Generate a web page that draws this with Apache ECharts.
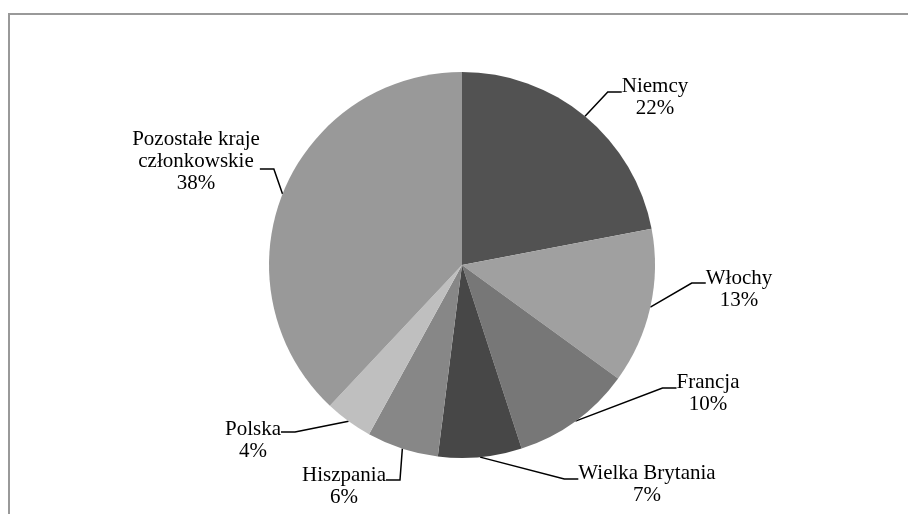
<!DOCTYPE html>
<html>
<head>
<meta charset="utf-8">
<script src="https://cdn.jsdelivr.net/npm/echarts@6/dist/echarts.min.js"></script>
<style>
html,body{margin:0;padding:0;background:#fff;}
#chart{width:908px;height:514px;}
</style>
</head>
<body>
<div id="chart"></div>
<script>
// Data
var categories = ['Niemcy', 'Włochy', 'Francja', 'Wielka Brytania', 'Hiszpania', 'Polska', 'Pozostałe kraje\nczłonkowskie'];
var shares = [22, 13, 10, 7, 6, 4, 38];

// Styles / layout (kept separate from data)
var sliceColors = ['#525252', '#a0a0a0', '#777777', '#474747', '#878787', '#bfbfbf', '#999999'];
var labelCenters = [[655, 97], [739, 289], [708, 393], [647, 484], [344, 486], [253, 440], [196, 161]];
var attachOffsets = [-5, -6, -5, -5, -6, -8, 8];
var pieCenter = [462, 265];
var pieRadius = 193;
var hookLen = 14;

var chart = echarts.init(document.getElementById('chart'), null, {renderer: 'canvas'});

var pieData = categories.map(function (c, i) {
  return {name: c, value: shares[i], itemStyle: {color: sliceColors[i]}};
});

chart.setOption({
  backgroundColor: '#ffffff',
  animation: false,
  graphic: [{
    type: 'rect',
    shape: {x: 9, y: 14, width: 1000, height: 1000},
    style: {fill: 'none', stroke: '#999999', lineWidth: 2},
    silent: true,
    z: 0
  }],
  series: [{
    type: 'pie',
    center: pieCenter,
    radius: pieRadius,
    startAngle: 90,
    clockwise: true,
    data: pieData,
    itemStyle: {borderWidth: 0},
    emphasis: {disabled: true},
    label: {
      show: true,
      position: 'outside',
      distanceToLabelLine: 0,
      fontFamily: '"Liberation Serif", "DejaVu Serif", serif',
      fontSize: 21,
      lineHeight: 22,
      color: '#000000',
      align: 'center',
      formatter: function (p) { return p.name + '\n' + Math.round(p.percent) + '%'; }
    },
    labelLine: {
      show: true,
      length: 0,
      length2: hookLen,
      smooth: false,
      lineStyle: {color: '#000000', width: 1.5}
    },
    labelLayout: function (params) {
      var i = params.dataIndex;
      var c = labelCenters[i];
      var out = {x: c[0], y: c[1], align: 'center', verticalAlign: 'middle'};
      var pts = params.labelLinePoints;
      if (pts && pts.length && params.labelRect) {
        var w = params.labelRect.width;
        var right = c[0] > pieCenter[0];
        var ax = right ? c[0] - w / 2 : c[0] + w / 2;
        var ay = c[1] + attachOffsets[i];
        var bx = right ? ax - hookLen : ax + hookLen;
        out.labelLinePoints = [[pts[0][0], pts[0][1]], [bx, ay], [ax, ay]];
      }
      return out;
    }
  }]
});
</script>
</body>
</html>
